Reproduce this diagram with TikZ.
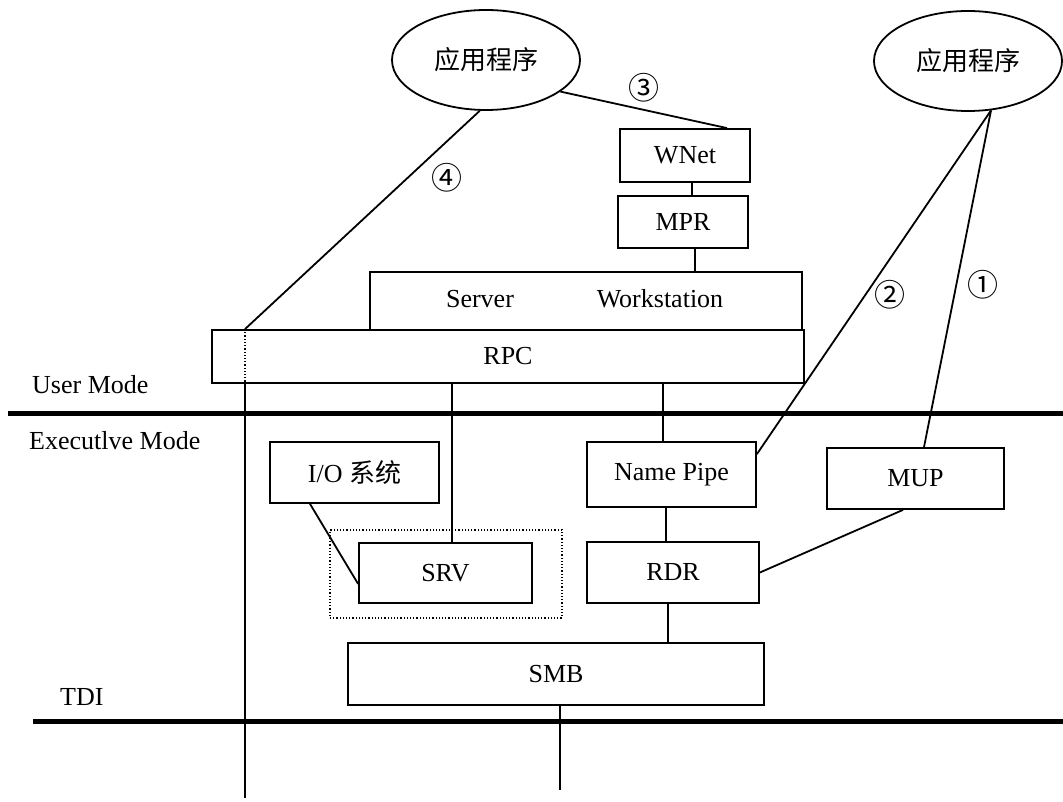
\documentclass[tikz,border=0pt]{standalone}
\usepackage{fontspec}
\setmainfont{Liberation Serif}
\newfontfamily\cjk{Noto Sans CJK SC}
\usetikzlibrary{shapes.geometric,calc}
\begin{document}
\begin{tikzpicture}[x=1pt,y=-1pt,
  every node/.style={font=\fontsize{26}{30}\selectfont, inner sep=0pt},
  box/.style={draw, line width=1.8pt, rectangle},
  app/.style={draw, ellipse, line width=1.8pt, minimum width=188pt, minimum height=100pt, font=\cjk\fontsize{26}{30}\selectfont},
  conn/.style={line width=1.8pt},
  sepline/.style={line width=5pt},
  dotline/.style={dotted, line width=1.2pt},
  num/.style={font=\cjk\fontsize{31}{34}\selectfont},
  lbl/.style={anchor=west}]
\useasboundingbox (0,0) rectangle (1063,802);

% helper x positions
\coordinate (xL) at (245,0);
\coordinate (x692) at (692,0);
\coordinate (x695) at (695,0);
\coordinate (x727) at (727,0);
\coordinate (x452) at (452,0);
\coordinate (x663) at (663,0);
\coordinate (x310) at (310,0);
\coordinate (x666) at (666,0);
\coordinate (x668) at (668,0);
\coordinate (x560) at (560,0);
\coordinate (x924) at (924,0);
\coordinate (x903) at (903,0);
\coordinate (bL) at (245,798);
\coordinate (bM) at (560,790);
\coordinate (sepAs) at (8,413);
\coordinate (sepAe) at (1063,413);
\coordinate (sepBs) at (33,721);
\coordinate (sepBe) at (1063,721);

% nodes
\node[app] (appL) at (486,60) {应用程序};
\node[app] (appR) at (968,61) {应用程序};
\node[box, minimum width=130pt, minimum height=53pt] (wnet) at (685,155.5) {WNet};
\node[box, minimum width=130pt, minimum height=52pt] (mpr) at (683,222) {MPR};
\node[box, minimum width=432pt, minimum height=58pt] (sw) at (586,301) {};
\node (server) at (480,299) {Server};
\node (ws) at (660,299) {Workstation};
\node[box, minimum width=592pt, minimum height=53pt] (rpc) at (508,356.5) {RPC};
\node[box, minimum width=169pt, minimum height=65pt] (np) at (671.5,474.5) {Name Pipe};
\node[box, minimum width=172pt, minimum height=61pt] (rdr) at (673,572.5) {RDR};
\node[box, minimum width=177pt, minimum height=61pt] (mup) at (915.5,478.5) {MUP};
\node[box, minimum width=169pt, minimum height=61pt] (io) at (354.5,472.5) {I/O {\cjk 系统}};
\node[draw, dotline, minimum width=232pt, minimum height=88pt] (grp) at (446,574) {};
\node[box, minimum width=173pt, minimum height=60pt] (srv) at (445.5,573) {SRV};
\node[box, minimum width=416pt, minimum height=62pt] (smb) at (556,674) {SMB};

% side labels
\node[lbl] (um) at (32,385) {User Mode};
\node[lbl] (em) at (29,441) {Executlve Mode};
\node[lbl] (tdi) at (60,697) {TDI};

% circled numbers
\node[num] (n1) at (983,285) {①};
\node[num] (n2) at (890,295) {②};
\node[num] (n3) at (644,88) {③};
\node[num] (n4) at (447,178) {④};

% connectors
\draw[conn] (wnet.south -| x692) -- (mpr.north -| x692);
\draw[conn] (mpr.south -| x695) -- (sw.north -| x695);
\draw[conn] (appL.-23) -- (wnet.north -| x727);
\draw[conn] (appL.-97) -- (rpc.north -| xL);
\draw[dotline] (rpc.north -| xL) -- (rpc.south -| xL);
\draw[conn] (rpc.south -| xL) -- (bL);
\draw[conn] (rpc.south -| x452) -- (srv.north -| x452);
\draw[conn] (rpc.south -| x663) -- (np.north -| x663);
\draw[conn] (io.south -| x310) -- ($(srv.south west)+(0,-20)$);
\draw[conn] (np.south -| x666) -- (rdr.north -| x666);
\draw[conn] (rdr.south -| x668) -- (smb.north -| x668);
\draw[conn] (smb.south -| x560) -- (bM);
\draw[conn] (appR.-65) -- ($(np.north east)+(0,13)$);
\draw[conn] (appR.-65) -- (mup.north -| x924);
\draw[conn] (mup.south -| x903) -- (rdr.east);

% mode separators
\draw[sepline] (sepAs) -- (sepAe);
\draw[sepline] (sepBs) -- (sepBe);
\end{tikzpicture}
\end{document}
